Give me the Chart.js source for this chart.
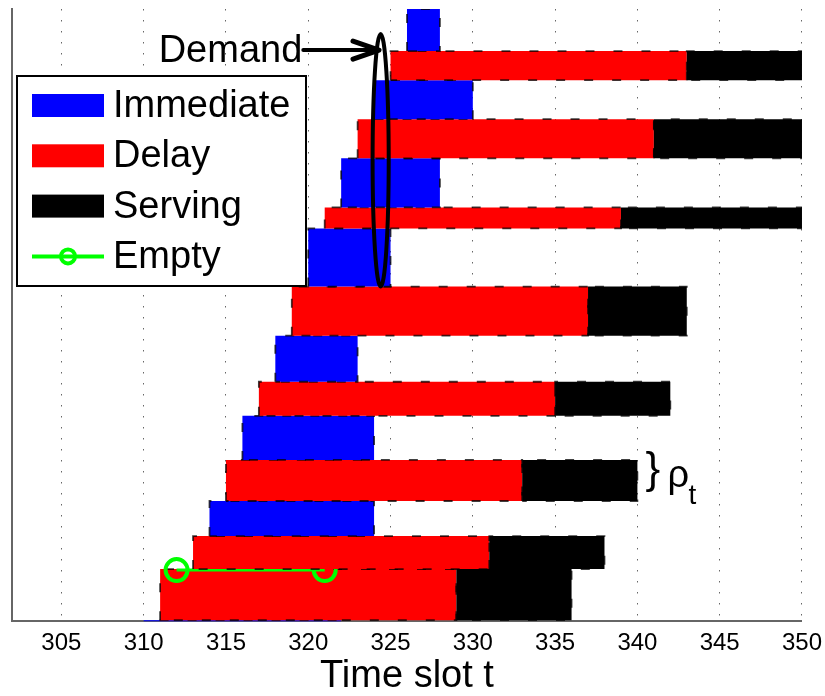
<!DOCTYPE html>
<html>
<head>
<meta charset="utf-8">
<script src="https://cdn.jsdelivr.net/npm/chart.js@4/dist/chart.umd.min.js"></script>
<style>
  html, body { margin: 0; padding: 0; background: #fff; }
  #wrap { width: 825px; height: 696px; }
</style>
</head>
<body>
<div id="wrap"><canvas id="grafico" width="825" height="696"></canvas></div>
<script>
// requests stacked from bottom to top: I = immediate, D = delay then serving
const kinds     = ["I", "D", "D", "I", "D", "I", "D", "I", "D", "I", "D", "I", "D", "I", "D", "I"];
const starts    = [310, 311, 313, 314, 315, 316, 317, 318, 319, 320, 321, 322, 323, 324, 325, 326];
const ends      = [322, 329, 331, 324, 333, 324, 335, 323, 337, 325, 339, 328, 341, 330, 343, 328];
const serveEnds = [null, 336, 338, null, 340, null, 342, null, 343, null, 351, null, 351, null, 351, null];
const demands   = [4.0, 5.1, 3.3, 3.5, 4.1, 4.4, 3.4, 4.6, 4.9, 5.8, 2.1, 4.9, 3.9, 3.9, 2.9, 4.2];
const stackStart = -3.9;

const emptyX = [312, 321];
const emptyY = [5.1, 5.1];

const xTicks = [305, 310, 315, 320, 325, 330, 335, 340, 345, 350];

const colors = { Immediate: "#0000ff", Delay: "#ff0000", Serving: "#000000", Empty: "#00ff00" };
const FONT = "Liberation Sans, Arial, sans-serif";

function rect(x0, x1, y0, y1) {
  return [{x: x0, y: y0}, {x: x0, y: y1}, {x: x1, y: y1}, {x: x1, y: y0}, {x: x0, y: y0}];
}

function bar(label, points, order) {
  return {
    label: label,
    data: points,
    order: order,
    backgroundColor: colors[label],
    fill: "shape",
    borderColor: "rgba(0,0,0,0.75)",
    borderWidth: 1.8,
    borderDash: [9, 19],
    pointRadius: 0,
    pointHoverRadius: 0
  };
}

const datasets = [];
const rowBase = [];
let base = stackStart;
kinds.forEach((k, i) => {
  const top = base + demands[i];
  rowBase.push(base);
  const order = 100 - i * 2;
  if (k === "I") {
    datasets.push(bar("Immediate", rect(starts[i], ends[i], base, top), order));
  } else {
    datasets.push(bar("Delay", rect(starts[i], ends[i], base, top), order));
    datasets.push(bar("Serving", rect(ends[i], serveEnds[i], base, top), order - 1));
  }
  base = top;
});

datasets.push({
  label: "Empty",
  data: emptyX.map((x, i) => ({x: x, y: emptyY[i]})),
  order: 96.5,
  borderColor: colors.Empty,
  borderWidth: 3,
  fill: false,
  pointRadius: 11,
  pointBorderWidth: 4,
  pointBorderColor: colors.Empty,
  pointBackgroundColor: "rgba(0,0,0,0)"
});

// annotation: ellipse around the demand column and the rho_t brace
const notes = {
  id: "notes",
  afterDatasetsDraw(chart) {
    const ctx = chart.ctx;
    const x = chart.scales.x, y = chart.scales.y;
    ctx.save();
    ctx.strokeStyle = "#000";
    ctx.fillStyle = "#000";

    const cx = x.getPixelForValue(324.4), cy = y.getPixelForValue(46.0);
    const rx = x.getPixelForValue(324.4 + 0.49) - cx;
    const ry = y.getPixelForValue(46.0) - y.getPixelForValue(46.0 + 12.6);
    ctx.lineWidth = 4;
    ctx.beginPath();
    ctx.ellipse(cx, cy, rx, ry, 0, 0, Math.PI * 2);
    ctx.stroke();

    // arrow from the label to the ellipse
    const ay = y.getPixelForValue(57.0);
    const tail = x.getPixelForValue(319.7), tip = x.getPixelForValue(324.3);
    ctx.lineCap = "round";
    ctx.lineJoin = "round";
    ctx.beginPath();
    ctx.moveTo(tail, ay);
    ctx.lineTo(tip - 2, ay);
    ctx.stroke();
    ctx.lineWidth = 5;
    ctx.beginPath();
    ctx.moveTo(tip - 26, ay - 9);
    ctx.lineTo(tip, ay);
    ctx.lineTo(tip - 26, ay + 9);
    ctx.stroke();

    ctx.font = "38px " + FONT;
    ctx.textAlign = "right";
    ctx.textBaseline = "middle";
    ctx.fillText("Demand", tail - 1, ay + 1);

    // brace with rho_t next to one delayed request
    const r = 4;
    const bx = x.getPixelForValue(serveEnds[r]);
    const by = (y.getPixelForValue(rowBase[r]) + y.getPixelForValue(rowBase[r] + demands[r])) / 2;
    ctx.textAlign = "left";
    ctx.textBaseline = "middle";
    ctx.font = "44px " + FONT;
    ctx.fillText("}", bx + 8, by - 10);
    ctx.textBaseline = "alphabetic";
    ctx.font = "38px " + FONT;
    ctx.fillText("\u03C1", bx + 30, by + 6.5);
    ctx.font = "28px " + FONT;
    ctx.fillText("t", bx + 51, by + 23.5);
    ctx.restore();
  }
};

// boxed legend inside the plot
const legendEntries = ["Immediate", "Delay", "Serving", "Empty"];
const legendBox = {
  id: "legendBox",
  afterDraw(chart) {
    const ctx = chart.ctx;
    const a = chart.chartArea;
    const left = a.left + 5, top = 76, w = 289, h = 210;
    ctx.save();
    ctx.fillStyle = "#fff";
    ctx.fillRect(left, top, w, h);
    ctx.strokeStyle = "#000";
    ctx.lineWidth = 2;
    ctx.strokeRect(left, top, w, h);
    ctx.font = "38px " + FONT;
    ctx.textBaseline = "middle";
    ctx.textAlign = "left";
    legendEntries.forEach((name, i) => {
      const cy = top + 29.5 + i * 50.3;
      const sx = left + 15, sw = 72;
      if (name === "Empty") {
        ctx.strokeStyle = colors.Empty;
        ctx.lineWidth = 4;
        ctx.beginPath();
        ctx.moveTo(sx, cy);
        ctx.lineTo(sx + sw, cy);
        ctx.stroke();
        ctx.beginPath();
        ctx.arc(sx + sw / 2, cy, 7, 0, Math.PI * 2);
        ctx.stroke();
      } else {
        ctx.fillStyle = colors[name];
        ctx.fillRect(sx, cy - 11.5, sw, 23);
      }
      ctx.fillStyle = "#000";
      ctx.fillText(name, left + 96, cy + 1);
    });
    ctx.restore();
  }
};

Chart.defaults.font.family = FONT;

new Chart(document.getElementById("grafico").getContext("2d"), {
  type: "line",
  data: { datasets: datasets },
  options: {
    responsive: false,
    animation: false,
    devicePixelRatio: 1,
    events: [],
    layout: { autoPadding: false, padding: { left: 4, top: 9, right: 18, bottom: 0 } },
    plugins: {
      legend: { display: false },
      tooltip: { enabled: false }
    },
    scales: {
      x: {
        type: "linear",
        min: 302,
        max: 350,
        afterBuildTicks: s => { s.ticks = xTicks.map(v => ({ value: v })); },
        grid: { color: "rgba(0,0,0,0.6)", lineWidth: 1, drawTicks: false },
        border: { display: true, color: "#666", width: 2, dash: [1.5, 9.5] },
        ticks: { color: "#000", font: { size: 24, lineHeight: 1.62 }, padding: 3, maxRotation: 0 },
        title: {
          display: true,
          text: "Time slot t",
          color: "#000",
          font: { size: 38, lineHeight: 1 },
          padding: { top: -8.1, bottom: 0 }
        }
      },
      y: {
        type: "linear",
        min: 0,
        max: 61.1,
        grid: { display: false },
        ticks: { display: false },
        border: { display: true, color: "#666", width: 2 }
      }
    }
  },
  plugins: [notes, legendBox]
});
</script>
</body>
</html>
